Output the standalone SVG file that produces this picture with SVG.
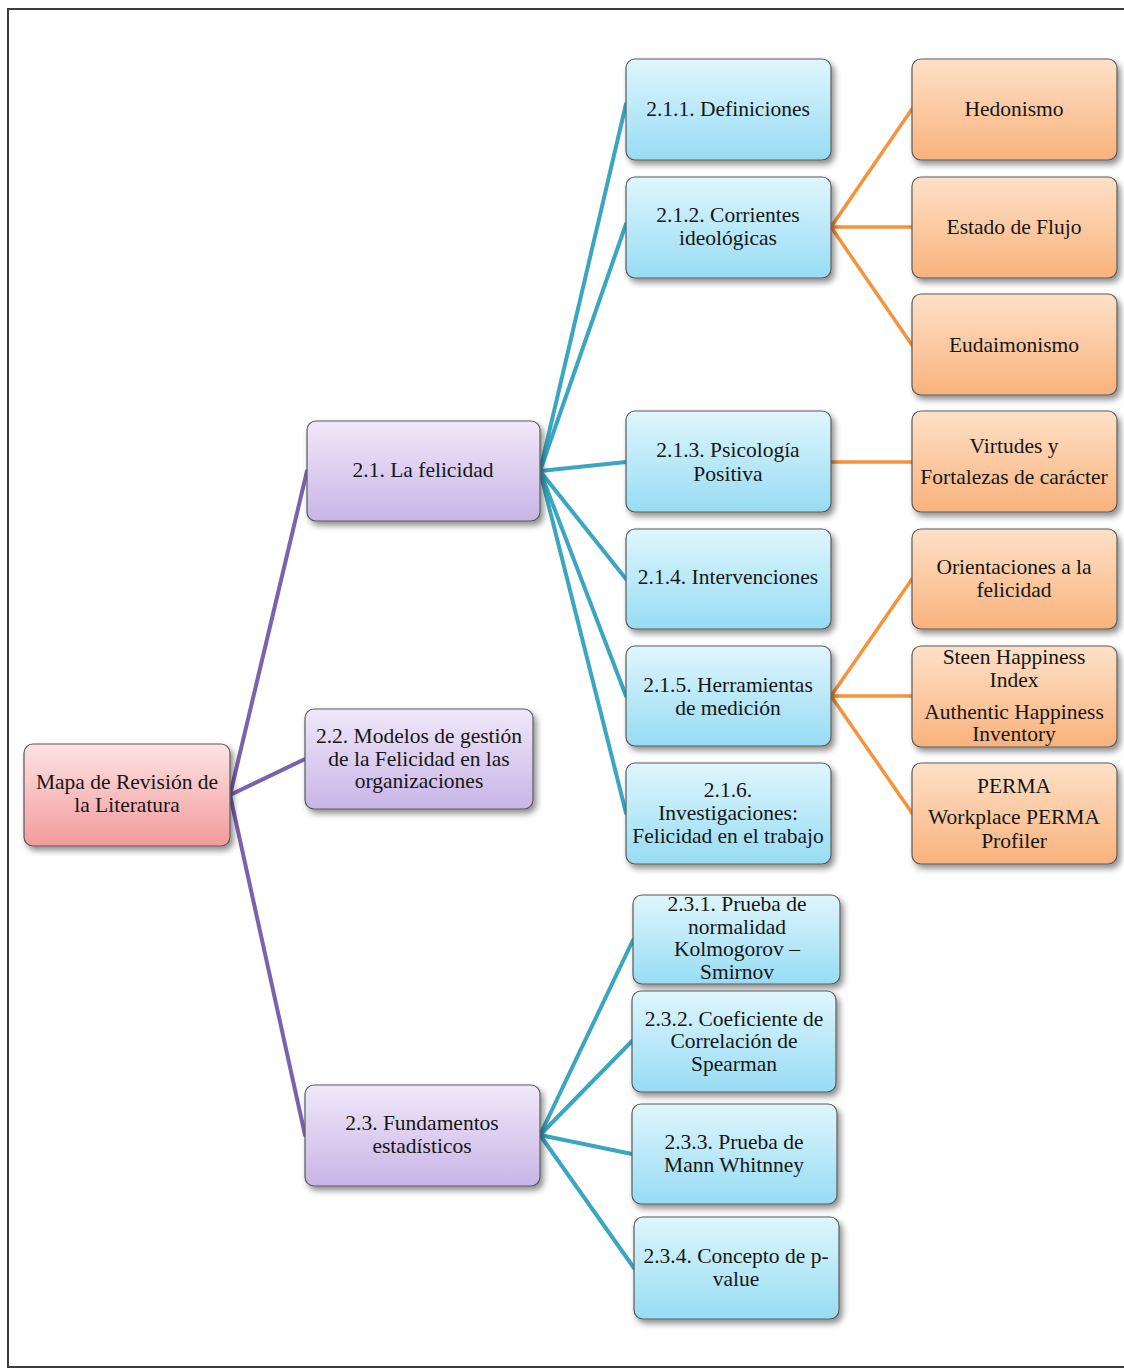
<svg xmlns="http://www.w3.org/2000/svg" width="1124" height="1369" viewBox="0 0 1124 1369">
<defs>
<linearGradient id="gBlue" x1="0" y1="0" x2="0" y2="1"><stop offset="0" stop-color="#dff6fd"/><stop offset="1" stop-color="#97dcf4"/></linearGradient>
<linearGradient id="gOrange" x1="0" y1="0" x2="0" y2="1"><stop offset="0" stop-color="#fde1c8"/><stop offset="1" stop-color="#f9b27c"/></linearGradient>
<linearGradient id="gPurple" x1="0" y1="0" x2="0" y2="1"><stop offset="0" stop-color="#f0e8f9"/><stop offset="1" stop-color="#c8b5e6"/></linearGradient>
<linearGradient id="gPink" x1="0" y1="0" x2="0" y2="1"><stop offset="0" stop-color="#fde3e3"/><stop offset="1" stop-color="#f49a9c"/></linearGradient>
<filter id="sh" x="-10%" y="-10%" width="125%" height="130%"><feDropShadow dx="3" dy="4" stdDeviation="3" flood-color="#000" flood-opacity="0.45"/></filter>
</defs>
<style>
.box{stroke:#5a5a5a;stroke-width:1.2;filter:url(#sh)}
.blue{fill:url(#gBlue)}
.orange{fill:url(#gOrange)}
.purple{fill:url(#gPurple)}
.pink{fill:url(#gPink)}
text{font-family:"Liberation Serif","Times New Roman",serif;font-size:21.5px;fill:#161616;text-anchor:middle}
.cp{stroke:#7b62ad;stroke-width:4;fill:none;stroke-linecap:round}
.cb{stroke:#3aa6c2;stroke-width:4;fill:none;stroke-linecap:round}
.co{stroke:#f7933a;stroke-width:3.5;fill:none;stroke-linecap:round}
</style>
<rect x="0" y="0" width="1124" height="1369" fill="#ffffff"/>
<rect x="8" y="9" width="1130" height="1358" fill="none" stroke="#3c3c3c" stroke-width="2"/>
<g id="connectors">
<line class="cp" x1="230" y1="795" x2="307" y2="471"/>
<line class="cp" x1="230" y1="795" x2="305" y2="759"/>
<line class="cp" x1="230" y1="795" x2="305" y2="1135"/>
<line class="cb" x1="540" y1="471" x2="626" y2="104"/>
<line class="cb" x1="540" y1="471" x2="626" y2="224"/>
<line class="cb" x1="540" y1="471" x2="626" y2="462"/>
<line class="cb" x1="540" y1="471" x2="626" y2="579"/>
<line class="cb" x1="540" y1="471" x2="626" y2="696"/>
<line class="cb" x1="540" y1="471" x2="626" y2="813"/>
<line class="cb" x1="540" y1="1135" x2="633" y2="940"/>
<line class="cb" x1="540" y1="1135" x2="632" y2="1041"/>
<line class="cb" x1="540" y1="1135" x2="632" y2="1154"/>
<line class="cb" x1="540" y1="1135" x2="634" y2="1268"/>
<line class="co" x1="831" y1="227" x2="912" y2="109"/>
<line class="co" x1="831" y1="227" x2="912" y2="227"/>
<line class="co" x1="831" y1="227" x2="912" y2="345"/>
<line class="co" x1="831" y1="462" x2="912" y2="462"/>
<line class="co" x1="831" y1="696" x2="912" y2="579"/>
<line class="co" x1="831" y1="696" x2="912" y2="696"/>
<line class="co" x1="831" y1="696" x2="912" y2="813"/>
</g>
<g id="root"><rect class="box pink" x="24" y="744" width="206" height="102" rx="9"/><text x="127" y="789">Mapa de Revisión de</text><text x="127" y="812">la Literatura</text></g>
<g id="n21"><rect class="box purple" x="307" y="421" width="233" height="100" rx="9"/><text x="423" y="477">2.1. La felicidad</text></g>
<g id="n22"><rect class="box purple" x="305" y="709" width="228" height="100" rx="9"/><text x="419" y="743">2.2. Modelos de gestión</text><text x="419" y="766">de la Felicidad en las</text><text x="419" y="788">organizaciones</text></g>
<g id="n23"><rect class="box purple" x="305" y="1085" width="235" height="101" rx="9"/><text x="422" y="1130">2.3. Fundamentos</text><text x="422" y="1153">estadísticos</text></g>
<g id="n211"><rect class="box blue" x="626" y="59" width="205" height="101" rx="9"/><text x="728" y="116">2.1.1. Definiciones</text></g>
<g id="n212"><rect class="box blue" x="626" y="177" width="205" height="101" rx="9"/><text x="728" y="222">2.1.2. Corrientes</text><text x="728" y="245">ideológicas</text></g>
<g id="n213"><rect class="box blue" x="626" y="411" width="205" height="101" rx="9"/><text x="728" y="457">2.1.3. Psicología</text><text x="728" y="481">Positiva</text></g>
<g id="n214"><rect class="box blue" x="626" y="529" width="205" height="100" rx="9"/><text x="728" y="584">2.1.4. Intervenciones</text></g>
<g id="n215"><rect class="box blue" x="626" y="646" width="205" height="100" rx="9"/><text x="728" y="692">2.1.5. Herramientas</text><text x="728" y="715">de medición</text></g>
<g id="n216"><rect class="box blue" x="626" y="763" width="205" height="101" rx="9"/><text x="728" y="797">2.1.6.</text><text x="728" y="820">Investigaciones:</text><text x="728" y="843">Felicidad en el trabajo</text></g>
<g id="hed"><rect class="box orange" x="912" y="59" width="205" height="101" rx="9"/><text x="1014" y="116">Hedonismo</text></g>
<g id="flujo"><rect class="box orange" x="912" y="177" width="205" height="101" rx="9"/><text x="1014" y="234">Estado de Flujo</text></g>
<g id="eud"><rect class="box orange" x="912" y="294" width="205" height="101" rx="9"/><text x="1014" y="352">Eudaimonismo</text></g>
<g id="virt"><rect class="box orange" x="912" y="411" width="205" height="101" rx="9"/><text x="1014" y="453">Virtudes y</text><text x="1014" y="484">Fortalezas de carácter</text></g>
<g id="orient"><rect class="box orange" x="912" y="529" width="205" height="100" rx="9"/><text x="1014" y="574">Orientaciones a la</text><text x="1014" y="597">felicidad</text></g>
<g id="steen"><rect class="box orange" x="912" y="646" width="205" height="101" rx="9"/><text x="1014" y="664">Steen Happiness</text><text x="1014" y="687">Index</text><text x="1014" y="719">Authentic  Happiness</text><text x="1014" y="741">Inventory</text></g>
<g id="perma"><rect class="box orange" x="912" y="763" width="205" height="101" rx="9"/><text x="1014" y="793">PERMA</text><text x="1014" y="824">Workplace PERMA</text><text x="1014" y="848">Profiler</text></g>
<g id="n231"><rect class="box blue" x="633" y="895" width="207" height="89" rx="9"/><text x="737" y="911">2.3.1. Prueba de</text><text x="737" y="934">normalidad</text><text x="737" y="956">Kolmogorov –</text><text x="737" y="979">Smirnov</text></g>
<g id="n232"><rect class="box blue" x="632" y="991" width="204" height="101" rx="9"/><text x="734" y="1026">2.3.2. Coeficiente de</text><text x="734" y="1048">Correlación de</text><text x="734" y="1071">Spearman</text></g>
<g id="n233"><rect class="box blue" x="632" y="1104" width="205" height="100" rx="9"/><text x="734" y="1149">2.3.3. Prueba de</text><text x="734" y="1172">Mann  Whitnney</text></g>
<g id="n234"><rect class="box blue" x="634" y="1217" width="205" height="102" rx="9"/><text x="736" y="1263">2.3.4. Concepto de p-</text><text x="736" y="1286">value</text></g>
</svg>
